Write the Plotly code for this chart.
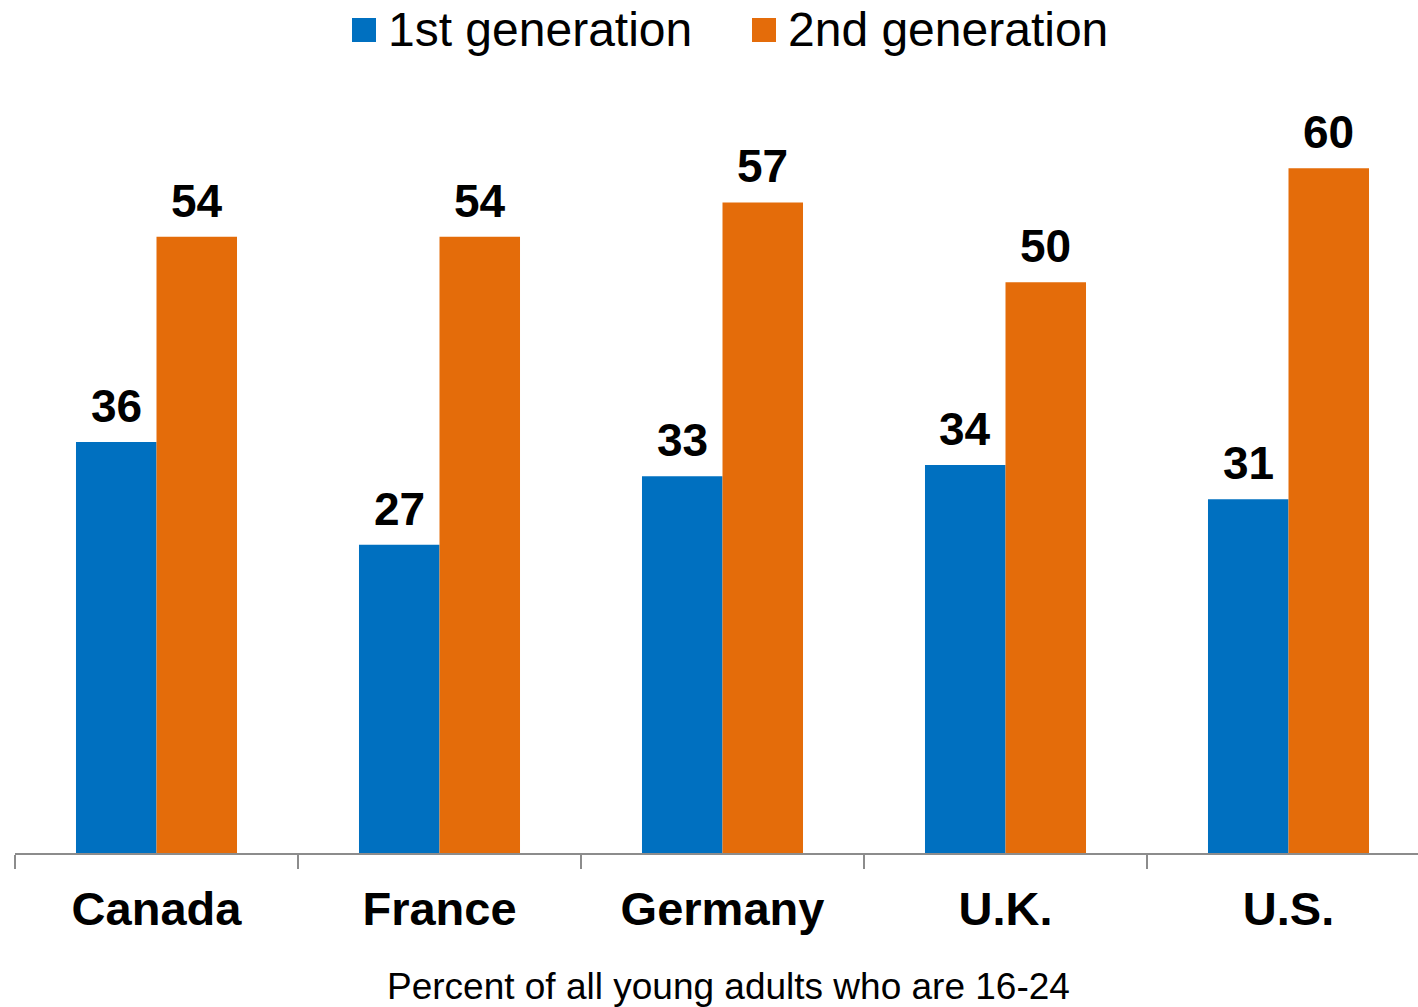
import plotly.graph_objects as go

countries = ["Canada", "France", "Germany", "U.K.", "U.S."]
first_gen = [36, 27, 33, 34, 31]
second_gen = [54, 54, 57, 50, 60]
series_names = ["1st generation", "2nd generation"]
axis_caption = "Percent of all young adults who are 16-24"

BLUE = "#0070C0"
ORANGE = "#E46C0A"
FONT = "Liberation Sans, Arial, Helvetica, sans-serif"

W, H = 1418, 1007
M_L, M_R, M_T, M_B = 15, 0, 54, 154
PW, PH = W - M_L - M_R, H - M_T - M_B
CAT_PX = 283.0          # width of one category slot in pixels
BARGAP = 0.431
BAR_PX = CAT_PX * (1 - BARGAP) / 2


def px_x(x):
    return (x - M_L) / PW


def px_y(y):
    return (H - M_B - y) / PH


fig = go.Figure()
series = [(series_names[0], first_gen, BLUE, -0.5),
          (series_names[1], second_gen, ORANGE, 0.5)]
for name, vals, color, side in series:
    fig.add_trace(go.Bar(
        x=countries, y=vals, name=name,
        marker=dict(color=color, line=dict(width=0)),
        showlegend=False,
    ))
    # value labels above each bar
    for c, v in zip(countries, vals):
        fig.add_annotation(x=c, y=v, xref="x", yref="y",
                           xshift=side * BAR_PX, yshift=8,
                           xanchor="center", yanchor="bottom", showarrow=False,
                           text=str(v),
                           font=dict(family=FONT, size=46, color="black", weight="bold"))

# Legend drawn as swatches + labels across the top
legend_items = [(series_names[0], BLUE, 352), (series_names[1], ORANGE, 752)]
for label, color, x0 in legend_items:
    fig.add_shape(type="rect", xref="paper", yref="paper",
                  x0=px_x(x0), x1=px_x(x0 + 24), y0=px_y(42), y1=px_y(18),
                  fillcolor=color, line=dict(width=0))
    fig.add_annotation(xref="paper", yref="paper", x=px_x(x0 + 34), y=px_y(30),
                       xanchor="left", yanchor="middle", showarrow=False,
                       text=label, font=dict(family=FONT, size=48, color="black"))

fig.add_annotation(xref="paper", yref="paper", x=px_x(728), y=px_y(987),
                   xanchor="center", yanchor="middle", showarrow=False,
                   text=axis_caption, font=dict(family=FONT, size=37, color="black"))

fig.update_layout(
    width=W, height=H,
    margin=dict(l=M_L, r=M_R, t=M_T, b=M_B, pad=0),
    paper_bgcolor="white", plot_bgcolor="white",
    barmode="group", bargap=BARGAP, bargroupgap=0,
    xaxis=dict(
        type="category", range=[-0.5, -0.5 + PW / CAT_PX],
        showline=True, linecolor="#8C8C8C", linewidth=2,
        ticks="outside", ticklen=14, tickwidth=2, tickcolor="#8C8C8C",
        tickson="boundaries", showgrid=False, zeroline=False,
        tickfont=dict(family=FONT, size=47, color="black", weight="bold"),
        ticklabelstandoff=14,
    ),
    yaxis=dict(visible=False, range=[0, 70]),
    font=dict(family=FONT),
)

fig.write_html("out.html")
